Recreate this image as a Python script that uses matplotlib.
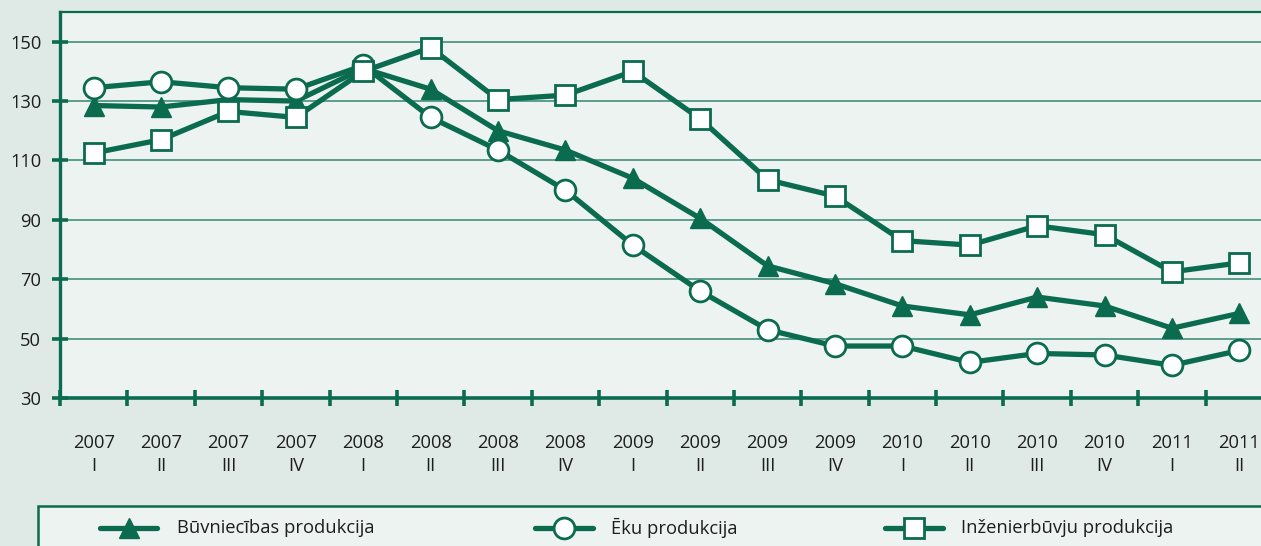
import matplotlib
matplotlib.use("Agg")
import matplotlib.pyplot as plt
from matplotlib.lines import Line2D
from matplotlib.patches import Rectangle
import numpy as np

plt.rcParams['font.family'] = ['Open Sans', 'DejaVu Sans']

years = ["2007", "2007", "2007", "2007", "2008", "2008", "2008", "2008",
         "2009", "2009", "2009", "2009", "2010", "2010", "2010", "2010",
         "2011", "2011"]
quarters = ["I", "II", "III", "IV", "I", "II", "III", "IV",
            "I", "II", "III", "IV", "I", "II", "III", "IV", "I", "II"]

buvniecibas = [128.5, 128, 130.5, 130, 141, 134, 120, 113.5, 104, 90.5,
               74.5, 68.5, 61, 58, 64, 61, 53.5, 58.5]
eku = [134.5, 136.5, 134.5, 134, 142, 124.5, 113.5, 100, 81.5, 66,
       53, 47.5, 47.5, 42, 45, 44.5, 41, 46]
inzenier = [112.5, 117, 126.5, 124.5, 140, 148, 130.5, 132, 140, 124,
            103.5, 98, 83, 81.5, 88, 85, 72.5, 75.5]

labels = ["Būvniecības produkcija", "Ēku produkcija", "Inženierbūvju produkcija"]
yticks = [30, 50, 70, 90, 110, 130, 150]

GREEN = "#0b6b4e"
GRID = "#4f9684"
OUTER = "#dfeae6"
INNER = "#edf3f0"
TEXT = "#1e1e1e"
FS = 13.2

W, H = 1261, 546
fig = plt.figure(figsize=(W / 100, H / 100), dpi=100, facecolor=OUTER)

def fx(px):
    return px / W

def fy(py):
    return 1 - py / H

ax = fig.add_axes([fx(60), fy(398), fx(1273) - fx(60), fy(12) - fy(398)])
ax.set_facecolor(INNER)
ax.set_xlim(-0.5, 17.5)
ax.set_ylim(30, 160)

x = np.arange(len(years))

styles = [
    dict(marker="^", markersize=14, markerfacecolor=GREEN, markeredgecolor=GREEN, markeredgewidth=1.0),
    dict(marker="o", markersize=15, markerfacecolor="white", markeredgecolor=GREEN, markeredgewidth=2.0),
    dict(marker="s", markersize=14, markerfacecolor="white", markeredgecolor=GREEN, markeredgewidth=2.0),
]
series = [buvniecibas, eku, inzenier]
for i, (vals, st) in enumerate(zip(series, styles)):
    ax.plot(x, vals, color=GREEN, lw=3.8, zorder=3 + i, clip_on=False, **st)

# grid
for v in yticks[1:]:
    ax.axhline(v, color=GRID, lw=1.3, zorder=1)

ax.spines["right"].set_visible(False)
ax.spines["left"].set_color(GREEN)
ax.spines["left"].set_linewidth(2.4)
ax.spines["bottom"].set_color(GREEN)
ax.spines["bottom"].set_linewidth(2.6)
ax.spines["top"].set_color(GREEN)
ax.spines["top"].set_linewidth(1.6)

ax.set_yticks(yticks)
ax.set_yticklabels([str(v) for v in yticks])
ax.tick_params(axis="y", direction="inout", length=11, width=2.6, color=GREEN,
               labelsize=FS, labelcolor=TEXT, pad=8)

ax.set_xticks(np.arange(-0.5, 17.5, 1))
ax.set_xticklabels([])
ax.tick_params(axis="x", which="major", direction="inout", length=11, width=2.6, color=GREEN)
ax.set_xticks(x, minor=True)
ax.set_xticklabels([f"{y}\n{q}" for y, q in zip(years, quarters)], minor=True,
                   fontsize=FS, color=TEXT, linespacing=1.38)
ax.tick_params(axis="x", which="minor", length=0, pad=26)

# legend box
fig.add_artist(Rectangle((fx(38), fy(560)), fx(1300) - fx(38), fy(506) - fy(560),
                         transform=fig.transFigure, facecolor=INNER, edgecolor=GREEN,
                         lw=1.8, zorder=0))
leg_y = 528
entries = [(100, 157, 177), (535, 593, 611), (885, 943, 961)]
for (x0, x1, tx), st, lab in zip(entries, styles, labels):
    fig.add_artist(Line2D([fx(x0), fx(x1)], [fy(leg_y), fy(leg_y)], transform=fig.transFigure,
                          color=GREEN, lw=3.8, solid_capstyle="round"))
    fig.add_artist(Line2D([fx((x0 + x1) / 2)], [fy(leg_y)], transform=fig.transFigure,
                          color=GREEN, lw=0, **st))
    fig.text(fx(tx), fy(leg_y), lab, fontsize=FS, color=TEXT, va="center", ha="left")

fig.savefig("out.png", dpi=100, facecolor=OUTER)
